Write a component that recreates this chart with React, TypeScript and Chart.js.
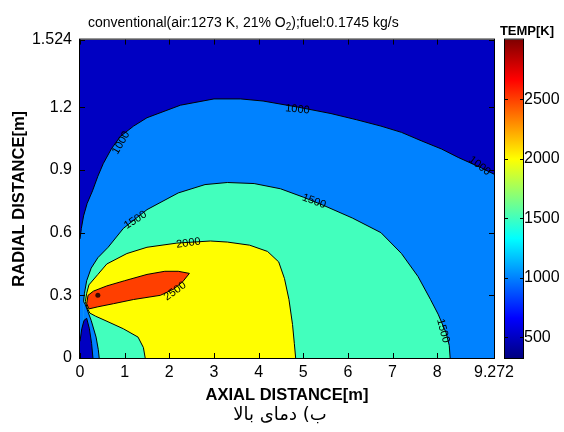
import React, { useEffect, useRef } from "react";
import { Chart, registerables } from "chart.js";

Chart.register(...registerables);

const FONT = '"Liberation Sans", Arial, Helvetica, sans-serif';

// axes
const X_MIN = 0;
const X_MAX = 9.272;
const Y_MIN = 0;
const Y_MAX = 1.524;
const T_MIN = 325;
const T_MAX = 3000;
const X_TICKS = [0, 1, 2, 3, 4, 5, 6, 7, 8, 9.272];
const Y_TICKS = [0, 0.3, 0.6, 0.9, 1.2, 1.524];
const T_TICKS = [500, 1000, 1500, 2000, 2500];

type P = [number, number];

// contour boundaries [axial m, radial m]
const DOMAIN_TOP: P[] = [[0, 1.524], [9.272, 1.524]];
const C1000_OUTER: P[] = [
  [0, 0.57], [0.03, 0.62], [0.08, 0.68], [0.16, 0.74], [0.28, 0.8], [0.4, 0.87], [0.52, 0.93],
  [0.7, 1.0], [0.9, 1.06], [1.2, 1.11], [1.5, 1.15], [2.25, 1.21], [3.0, 1.24], [3.6, 1.24],
  [4.1, 1.23], [4.9, 1.2], [5.62, 1.17], [6.2, 1.14], [6.74, 1.11], [7.2, 1.08], [7.64, 1.04],
  [8.1, 1.0], [8.47, 0.96], [8.99, 0.91], [9.272, 0.88],
];
const C1500_UPPER: P[] = [
  [0.08, 0.27], [0.1, 0.31], [0.15, 0.37], [0.25, 0.43], [0.4, 0.48], [0.63, 0.53], [0.97, 0.62],
  [1.5, 0.71], [2.2, 0.79], [2.8, 0.83], [3.3, 0.84], [3.9, 0.835], [4.49, 0.81], [5.0, 0.77],
  [5.46, 0.73], [6.1, 0.67], [6.74, 0.6], [7.2, 0.5], [7.57, 0.39], [7.85, 0.28], [8.02, 0.21],
  [8.2, 0.12], [8.27, 0.06], [8.29, 0],
];
const C2000_UPPER: P[] = [
  [0.12, 0.27], [0.15, 0.31], [0.2, 0.35], [0.4, 0.4], [0.6, 0.45], [1.05, 0.5], [1.5, 0.53],
  [2.17, 0.55], [2.92, 0.56], [3.3, 0.555], [3.8, 0.54], [4.2, 0.51], [4.45, 0.46], [4.58, 0.38],
  [4.68, 0.28], [4.76, 0.16], [4.8, 0.07], [4.83, 0],
];
const C2500_TOP: P[] = [
  [0.15, 0.26], [0.18, 0.3], [0.3, 0.32], [0.6, 0.345], [1.0, 0.37], [1.5, 0.4], [1.9, 0.415],
  [2.2, 0.415], [2.45, 0.405],
];
const C2500_BOTTOM: P[] = [
  [0.15, 0.26], [0.2, 0.235], [0.4, 0.245], [0.75, 0.26], [1.2, 0.28], [1.8, 0.3], [2.1, 0.33],
  [2.3, 0.365], [2.45, 0.405],
];
const C2000_LOWER: P[] = [
  [0.12, 0.27], [0.16, 0.24], [0.22, 0.215], [0.35, 0.2], [0.56, 0.18], [0.97, 0.14], [1.3, 0.1],
  [1.42, 0.05], [1.46, 0],
];
const C1500_LOWER: P[] = [
  [0.08, 0.27], [0.12, 0.255], [0.25, 0.18], [0.36, 0.1], [0.41, 0.04], [0.43, 0],
];
const C1000_CORNER: P[] = [
  [0, 0.08], [0.04, 0.14], [0.09, 0.18], [0.15, 0.19], [0.21, 0.14], [0.26, 0.07], [0.29, 0],
];
const PEAK: P[] = [[0.4, 0.3]];

const CONTOUR_LABELS = [
  { text: "1000", x: 0.92, y: 1.03, angle: -60 },
  { text: "1000", x: 4.87, y: 1.19, angle: 5 },
  { text: "1000", x: 8.95, y: 0.92, angle: 38 },
  { text: "1500", x: 1.24, y: 0.66, angle: -33 },
  { text: "1500", x: 5.24, y: 0.75, angle: 20 },
  { text: "1500", x: 8.13, y: 0.13, angle: 75 },
  { text: "2000", x: 2.43, y: 0.55, angle: -8 },
  { text: "2500", x: 2.13, y: 0.32, angle: -35 },
];

function jetRGB(t: number): [number, number, number] {
  const c = (v: number) => Math.max(0, Math.min(1, v));
  const r = c(Math.min(4 * t - 1.5, -4 * t + 4.5));
  const g = c(Math.min(4 * t - 0.5, -4 * t + 3.5));
  const b = c(Math.min(4 * t + 0.5, -4 * t + 2.5));
  return [Math.round(r * 255), Math.round(g * 255), Math.round(b * 255)];
}
const jet = (t: number) => {
  const [r, g, b] = jetRGB(t);
  return `rgb(${r},${g},${b})`;
};
const levelColor = (v: number) => jet((v - T_MIN) / (T_MAX - T_MIN));

const toPts = (arr: P[]) => arr.map(([x, y]) => ({ x, y }));

// fill: "origin" fills down to radial 0; "+1" fills to the next layer's line
const LAYERS: { pts: P[]; level: number; stroke: boolean; fill: any }[] = [
  { pts: DOMAIN_TOP, level: 500, stroke: false, fill: "origin" },
  { pts: C1000_OUTER, level: 1000, stroke: true, fill: "origin" },
  { pts: C1500_UPPER, level: 1500, stroke: true, fill: "origin" },
  { pts: C2000_UPPER, level: 2000, stroke: true, fill: "origin" },
  { pts: C2500_TOP, level: 2500, stroke: true, fill: "+1" },
  { pts: C2500_BOTTOM, level: 2500, stroke: true, fill: false },
  { pts: C2000_LOWER, level: 1500, stroke: true, fill: "origin" },
  { pts: C1500_LOWER, level: 1000, stroke: true, fill: "origin" },
  { pts: C1000_CORNER, level: 500, stroke: true, fill: "origin" },
];

const decor = {
  id: "decor",
  afterDraw(chart: any) {
    const { ctx, chartArea: a } = chart;
    const xs = chart.scales.x;
    const ys = chart.scales.y;
    const cs = chart.scales.cb;
    ctx.save();
    // contour labels
    ctx.font = `11px ${FONT}`;
    ctx.fillStyle = "#000";
    ctx.textAlign = "center";
    ctx.textBaseline = "middle";
    for (const l of CONTOUR_LABELS) {
      ctx.save();
      ctx.translate(xs.getPixelForValue(l.x), ys.getPixelForValue(l.y));
      ctx.rotate((l.angle * Math.PI) / 180);
      ctx.fillText(l.text, 0, 0);
      ctx.restore();
    }
    // frame and inward ticks
    ctx.strokeStyle = "#000";
    ctx.lineWidth = 1;
    ctx.strokeRect(a.left - 0.5, a.top - 0.5, a.right - a.left + 1, a.bottom - a.top + 1);
    ctx.beginPath();
    for (const v of X_TICKS) {
      const px = Math.round(xs.getPixelForValue(v)) + 0.5;
      ctx.moveTo(px, a.bottom);
      ctx.lineTo(px, a.bottom - 5);
      ctx.moveTo(px, a.top);
      ctx.lineTo(px, a.top + 5);
    }
    for (const v of Y_TICKS) {
      const py = Math.round(ys.getPixelForValue(v)) + 0.5;
      ctx.moveTo(a.left, py);
      ctx.lineTo(a.left + 5, py);
      ctx.moveTo(a.right, py);
      ctx.lineTo(a.right - 5, py);
    }
    ctx.stroke();
    // colorbar
    const cbL = cs.left + 11;
    const cbR = cs.left + 29;
    const yB = cs.getPixelForValue(T_MIN);
    const yT = cs.getPixelForValue(T_MAX);
    const g = ctx.createLinearGradient(0, yB, 0, yT);
    for (const s of [0, 0.125, 0.375, 0.625, 0.875, 1]) g.addColorStop(s, jet(s));
    ctx.fillStyle = g;
    ctx.fillRect(cbL, yT, cbR - cbL, yB - yT);
    ctx.strokeRect(cbL - 0.5, yT - 0.5, cbR - cbL + 1, yB - yT + 1);
    ctx.beginPath();
    for (const v of T_TICKS) {
      const py = Math.round(cs.getPixelForValue(v)) + 0.5;
      ctx.moveTo(cbL, py);
      ctx.lineTo(cbL + 3, py);
      ctx.moveTo(cbR, py);
      ctx.lineTo(cbR - 3, py);
    }
    ctx.stroke();
    // colorbar title
    ctx.fillStyle = "#000";
    ctx.font = `bold 13px ${FONT}`;
    ctx.textAlign = "center";
    ctx.textBaseline = "alphabetic";
    ctx.fillText("TEMP[K]", cs.left + 33, a.top - 5);
    // main title with subscript
    ctx.textAlign = "left";
    const part1 = "conventional(air:1273 K, 21% O";
    const part2 = ");fuel:0.1745 kg/s";
    let tx = a.left + 8;
    const ty = a.top - 13;
    ctx.font = `14px ${FONT}`;
    ctx.fillText(part1, tx, ty);
    tx += ctx.measureText(part1).width;
    ctx.font = `10px ${FONT}`;
    ctx.fillText("2", tx, ty + 3);
    tx += ctx.measureText("2").width;
    ctx.font = `14px ${FONT}`;
    ctx.fillText(part2, tx, ty);
    ctx.restore();
  },
};

export default function App() {
  const ref = useRef<HTMLCanvasElement>(null);
  useEffect(() => {
    if (!ref.current) return;
    const n = LAYERS.length;
    const datasets: any[] = LAYERS.map((l, i) => ({
      type: "line",
      data: toPts(l.pts),
      fill: l.fill,
      backgroundColor: levelColor(l.level),
      borderColor: "#000",
      borderWidth: l.stroke ? 1 : 0,
      pointRadius: 0,
      tension: 0,
      order: n + 1 - i,
      xAxisID: "x",
      yAxisID: "y",
    }));
    datasets.push({
      type: "line",
      data: toPts(PEAK),
      showLine: false,
      fill: false,
      pointRadius: 2.5,
      pointBackgroundColor: "#3a0a00",
      pointBorderWidth: 0,
      order: 0,
      xAxisID: "x",
      yAxisID: "y",
    });
    const chart = new Chart(ref.current, {
      type: "line",
      data: { datasets },
      options: {
        animation: false,
        responsive: false,
        events: [],
        layout: { padding: { top: 37, left: 0, right: 0, bottom: 0 } },
        plugins: { legend: { display: false }, tooltip: { enabled: false } },
        scales: {
          x: {
            type: "linear",
            min: X_MIN,
            max: X_MAX,
            afterFit: (s: any) => {
              s.height = 74;
            },
            afterBuildTicks: (s: any) => {
              s.ticks = X_TICKS.map((v) => ({ value: v }));
            },
            ticks: {
              autoSkip: false,
              maxRotation: 0,
              padding: 5,
              color: "#000",
              font: { size: 16, family: FONT },
              callback: (v: any) => String(v),
            },
            grid: { display: false, drawTicks: false },
            border: { display: false },
            title: {
              display: true,
              text: "AXIAL DISTANCE[m]",
              color: "#000",
              font: { size: 16.5, weight: "bold", family: FONT },
              padding: { top: 0, bottom: 27 },
            },
          },
          y: {
            type: "linear",
            axis: "y",
            position: "left",
            min: Y_MIN,
            max: Y_MAX,
            afterFit: (s: any) => {
              s.width = 80;
            },
            afterBuildTicks: (s: any) => {
              s.ticks = Y_TICKS.map((v) => ({ value: v }));
            },
            ticks: {
              autoSkip: false,
              padding: 8,
              color: "#000",
              font: { size: 16, family: FONT },
              callback: (v: any) => String(v),
            },
            grid: { display: false, drawTicks: false },
            border: { display: false },
            title: {
              display: true,
              text: "RADIAL DISTANCE[m]",
              color: "#000",
              font: { size: 16.5, weight: "bold", family: FONT },
              padding: { top: 10, bottom: 0 },
            },
          },
          cb: {
            type: "linear",
            axis: "y",
            position: "right",
            display: true,
            min: T_MIN,
            max: T_MAX,
            afterFit: (s: any) => {
              s.width = 70;
            },
            afterBuildTicks: (s: any) => {
              s.ticks = T_TICKS.map((v) => ({ value: v }));
            },
            ticks: {
              autoSkip: false,
              padding: 30,
              color: "#000",
              font: { size: 16, family: FONT },
              callback: (v: any) => String(v),
            },
            grid: { display: false, drawTicks: false },
            border: { display: false },
          },
        },
      } as any,
      plugins: [decor],
    });
    return () => chart.destroy();
  }, []);

  return (
    <div style={{ position: "absolute", left: 0, top: 0, width: 564, height: 432, background: "#fff" }}>
      <canvas ref={ref} width={564} height={432} style={{ display: "block", width: 564, height: 432 }} />
      <div
        dir="rtl"
        style={{
          position: "absolute",
          left: 180,
          width: 200,
          top: 402,
          textAlign: "center",
          fontFamily: '"DejaVu Sans", "Noto Sans", serif',
          fontSize: 18,
          lineHeight: "24px",
          color: "#000",
        }}
      >
        ب) دمای بالا
      </div>
    </div>
  );
}
